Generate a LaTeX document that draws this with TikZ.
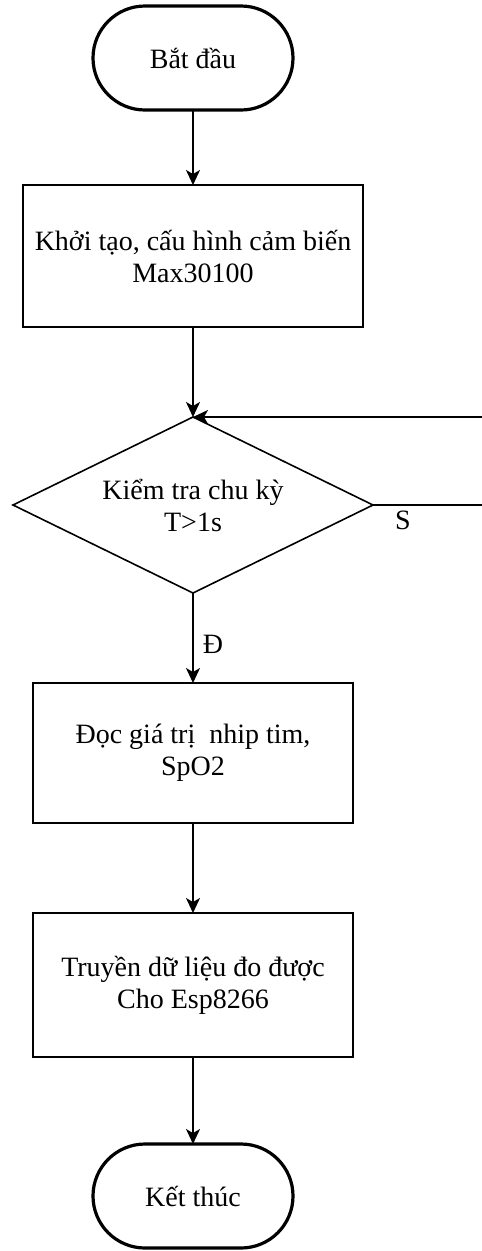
\documentclass[tikz,border=0pt]{standalone}
\usepackage{fontspec}
\setmainfont{Liberation Serif}
\usetikzlibrary{shapes.misc,shapes.geometric,arrows.meta}
\begin{document}
\begin{tikzpicture}[x=1pt,y=-1pt,
  every node/.style={font=\fontsize{28}{32}\selectfont, align=center, outer sep=0pt},
  terminal/.style={draw, rounded rectangle, line width=3.2pt, minimum width=200pt, minimum height=104pt, inner sep=0pt},
  process/.style={draw, rectangle, line width=2pt, inner sep=0pt},
  decision/.style={draw, diamond, line width=1.6pt, aspect=2.045, minimum width=360pt, minimum height=176pt, inner sep=0pt},
  flow/.style={line width=1.6pt, -{Stealth[length=15pt,width=14pt,inset=4pt]}},
  lbl/.style={font=\fontsize{28}{32}\selectfont, inner sep=0pt}]
\useasboundingbox (0,0) rectangle (482,1251);

% flowchart blocks
\node[terminal] (start) at (193,58) {Bắt đầu};
\node[process, minimum width=340pt, minimum height=142pt] (init) at (193,256) {Khởi tạo, cấu hình cảm biến\\Max30100};
\node[decision] (check) at (193,505) {Kiểm tra chu kỳ\\T>1s};
\node[process, minimum width=320pt, minimum height=140pt] (read) at (193,753) {Đọc giá trị\ \ nhip tim,\\SpO2};
\node[process, minimum width=320pt, minimum height=144pt] (send) at (193,985) {Truyền dữ liệu đo được\\Cho Esp8266};
\node[terminal] (stop) at (193,1196) {Kết thúc};

% main flow
\draw[flow] (start) -- (init);
\draw[flow] (init) -- (check);
\draw[flow] (check) -- (read);
\draw[flow] (read) -- (send);
\draw[flow] (send) -- (stop);

% "no" branch loops back to the decision
\coordinate (loopR) at (492,505);
\draw[flow] (check.east) -- (loopR) -- (loopR |- check.north) -- (check.north);

% branch labels
\node[lbl] (yes) at (213,644) {Đ};
\node[lbl] (no) at (403,520) {S};
\end{tikzpicture}
\end{document}
